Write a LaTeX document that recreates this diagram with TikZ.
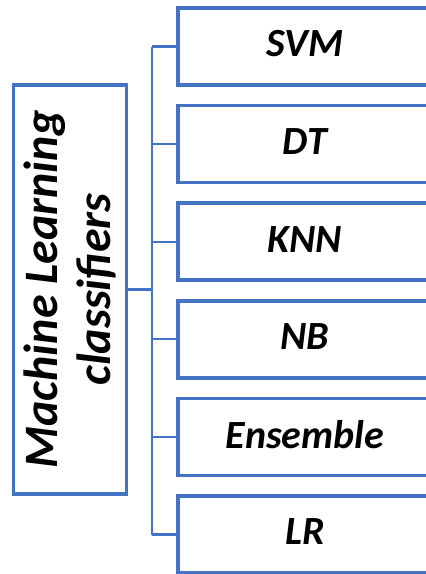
\documentclass[tikz,border=0pt]{standalone}
\usepackage{fontspec}
\setmainfont{Carlito}
\definecolor{officeblue}{RGB}{68,114,196}
\begin{document}
\begin{tikzpicture}[x=1pt,y=-1pt,
  catbox/.style={draw=officeblue,line width=3.5pt,fill=white,
    minimum width=254pt,minimum height=77pt,inner sep=0pt,outer sep=0pt},
  mainbox/.style={draw=officeblue,line width=3.5pt,fill=white,
    minimum width=113pt,minimum height=409pt,inner sep=0pt,outer sep=0pt},
  catlabel/.style={font=\fontsize{40}{48}\selectfont\bfseries\itshape,inner sep=0pt},
  mainlabel/.style={font=\fontsize{48}{53}\selectfont\bfseries\itshape,
    align=center,rotate=90,inner sep=0pt},
  link/.style={draw=officeblue,line width=2.2pt}]
\useasboundingbox (0,0) rectangle (426,574);
\clip (0,0) rectangle (426,574);

% spine of the bracket
\coordinate (spine) at (152,0);

% main box on the left
\node[mainbox] (ml) at (70,289.5) {};
\node[mainlabel] (mltext) at (70,289.5) {Machine Learning\\classifiers};

% classifier boxes
\foreach \name/\txt [count=\i from 0] in {svm/SVM,dt/DT,knn/KNN,nb/NB,ens/Ensemble,lr/LR}{
  \node[catbox] (\name) at (305,46.5+97.6*\i) {};
  \node[catlabel] (\name-t) at (305,44+97.6*\i) {\txt};
}

% connectors
\draw[link] (ml.east) -- (ml.east -| spine);
\draw[link] (svm.west -| spine) -- (lr.west -| spine);
\foreach \name in {svm,dt,knn,nb,ens,lr}{
  \draw[link] (\name.west -| spine) -- (\name.west);
}
\end{tikzpicture}
\end{document}
